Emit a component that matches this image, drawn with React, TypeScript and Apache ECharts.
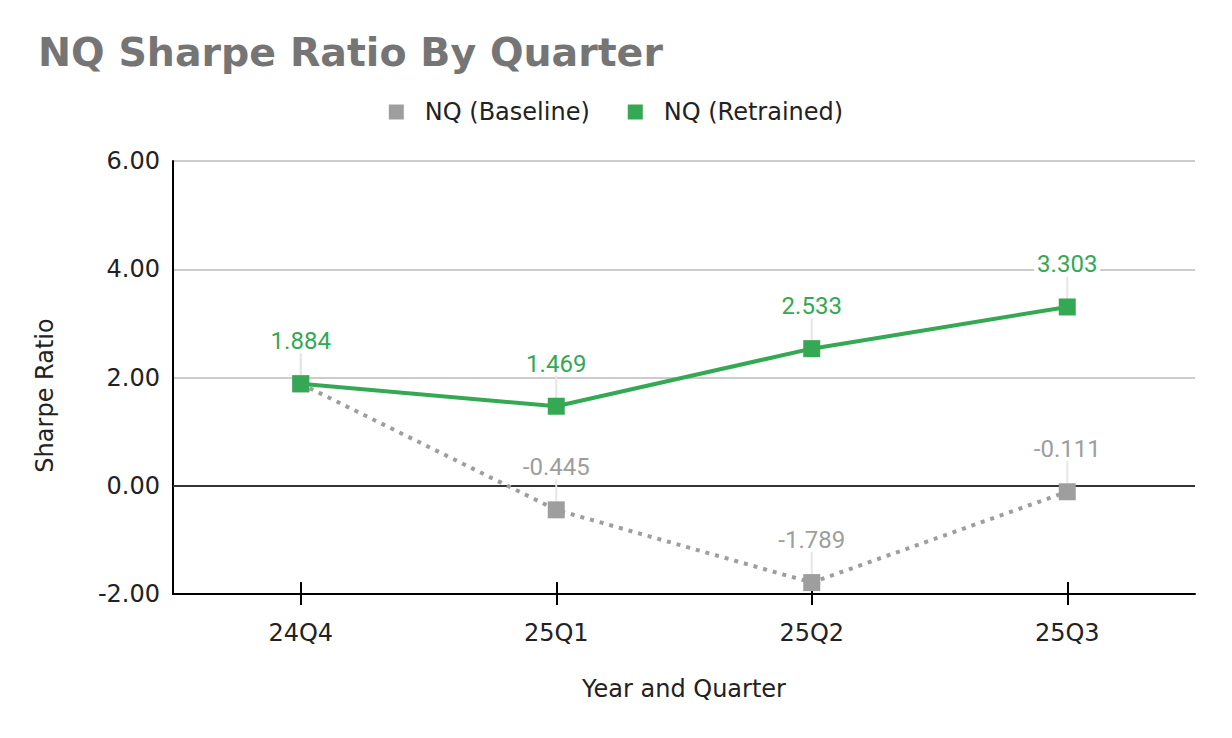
import React, { useEffect, useRef } from "react";
import * as echarts from "echarts";

const categories = ["24Q4", "25Q1", "25Q2", "25Q3"];
const baselineValues = [1.884, -0.445, -1.789, -0.111];
const retrainedValues = [1.884, 1.469, 2.533, 3.303];
const yMin = -2;
const yMax = 6;
const yInterval = 2;

const GREEN = "#34a853";
const GRAY = "#9e9e9e";
const FONT = "DejaVu Sans";

function leaderSeries(values: number[], z: number) {
  return {
    type: "custom",
    silent: true,
    z,
    data: values.map((v, i) => [i, v]),
    renderItem: (_params: any, api: any) => {
      const p = api.coord([api.value(0), api.value(1)]);
      return {
        type: "line",
        shape: { x1: p[0], y1: p[1] - 8, x2: p[0], y2: p[1] - 32 },
        style: { stroke: "#e6e6e6", lineWidth: 2 },
      };
    },
  };
}

export default function App() {
  const ref = useRef<HTMLDivElement>(null);
  useEffect(() => {
    document.body.style.margin = "0";
    const chart = echarts.init(ref.current!, null, { renderer: "svg" });
    const labelCfg = (color: string) => ({
      show: true,
      position: "top",
      distance: 22,
      color,
      fontFamily: "Roboto",
      fontSize: 24,
      backgroundColor: "#fff",
      padding: [0, 3],
      formatter: (p: any) => p.value.toFixed(3),
    });
    chart.setOption({
      animation: false,
      title: {
        text: "NQ Sharpe Ratio By Quarter",
        left: 33,
        top: 27,
        textStyle: { fontFamily: FONT, fontWeight: "bold", fontSize: 39.5, color: "#757575" },
      },
      legend: {
        top: 95,
        left: "center",
        icon: "rect",
        itemWidth: 15,
        itemHeight: 15,
        itemGap: 38,
        textStyle: { fontFamily: FONT, fontSize: 24, color: "#222", padding: [0, 0, 0, 16] },
        data: [
          { name: "NQ (Baseline)", itemStyle: { color: GRAY } },
          { name: "NQ (Retrained)", itemStyle: { color: GREEN } },
        ],
      },
      grid: { left: 173, right: 37, top: 161, bottom: 144, containLabel: false },
      xAxis: [
        {
          type: "category",
          data: categories,
          boundaryGap: true,
          name: "Year and Quarter",
          nameLocation: "middle",
          nameGap: 83,
          nameTextStyle: { fontFamily: FONT, fontSize: 24, color: "#222" },
          axisLine: { show: true, onZero: false, lineStyle: { color: "#000", width: 2 } },
          axisTick: { show: true, alignWithLabel: true, length: 11, lineStyle: { color: "#000", width: 2 } },
          axisLabel: { fontFamily: FONT, fontSize: 24, color: "#222", margin: 27 },
        },
        {
          type: "category",
          data: categories,
          position: "bottom",
          boundaryGap: true,
          axisLine: { show: false, onZero: false },
          axisTick: { show: true, inside: true, alignWithLabel: true, length: 12, lineStyle: { color: "#000", width: 2 } },
          axisLabel: { show: false },
        },
      ],
      yAxis: {
        type: "value",
        min: yMin,
        max: yMax,
        interval: yInterval,
        name: "Sharpe Ratio",
        nameLocation: "middle",
        nameGap: 116,
        nameTextStyle: { fontFamily: FONT, fontSize: 24, color: "#222", padding: [0, 36, 0, 0] },
        axisLine: { show: true, lineStyle: { color: "#000", width: 2 } },
        axisTick: { show: false },
        axisLabel: {
          fontFamily: FONT,
          fontSize: 24,
          color: "#222",
          margin: 13,
          formatter: (v: number) => v.toFixed(2),
        },
        splitLine: { show: true, lineStyle: { color: "#cccccc", width: 2 } },
      },
      series: [
        leaderSeries(baselineValues, 1),
        leaderSeries(retrainedValues, 1),
        {
          name: "NQ (Baseline)",
          type: "line",
          z: 3,
          data: baselineValues,
          symbol: "rect",
          symbolSize: 17,
          itemStyle: { color: GRAY },
          lineStyle: { color: GRAY, width: 4, type: [4, 6] },
          label: labelCfg(GRAY),
          markLine: {
            silent: true,
            symbol: "none",
            label: { show: false },
            lineStyle: { color: "#333", width: 2, type: "solid" },
            data: [{ yAxis: 0 }],
            z: 1,
          },
        },
        {
          name: "NQ (Retrained)",
          type: "line",
          z: 4,
          data: retrainedValues,
          symbol: "rect",
          symbolSize: 17,
          itemStyle: { color: GREEN },
          lineStyle: { color: GREEN, width: 4 },
          label: labelCfg(GREEN),
        },
      ],
    });
    return () => chart.dispose();
  }, []);
  return <div ref={ref} style={{ width: 1232, height: 738 }} />;
}
